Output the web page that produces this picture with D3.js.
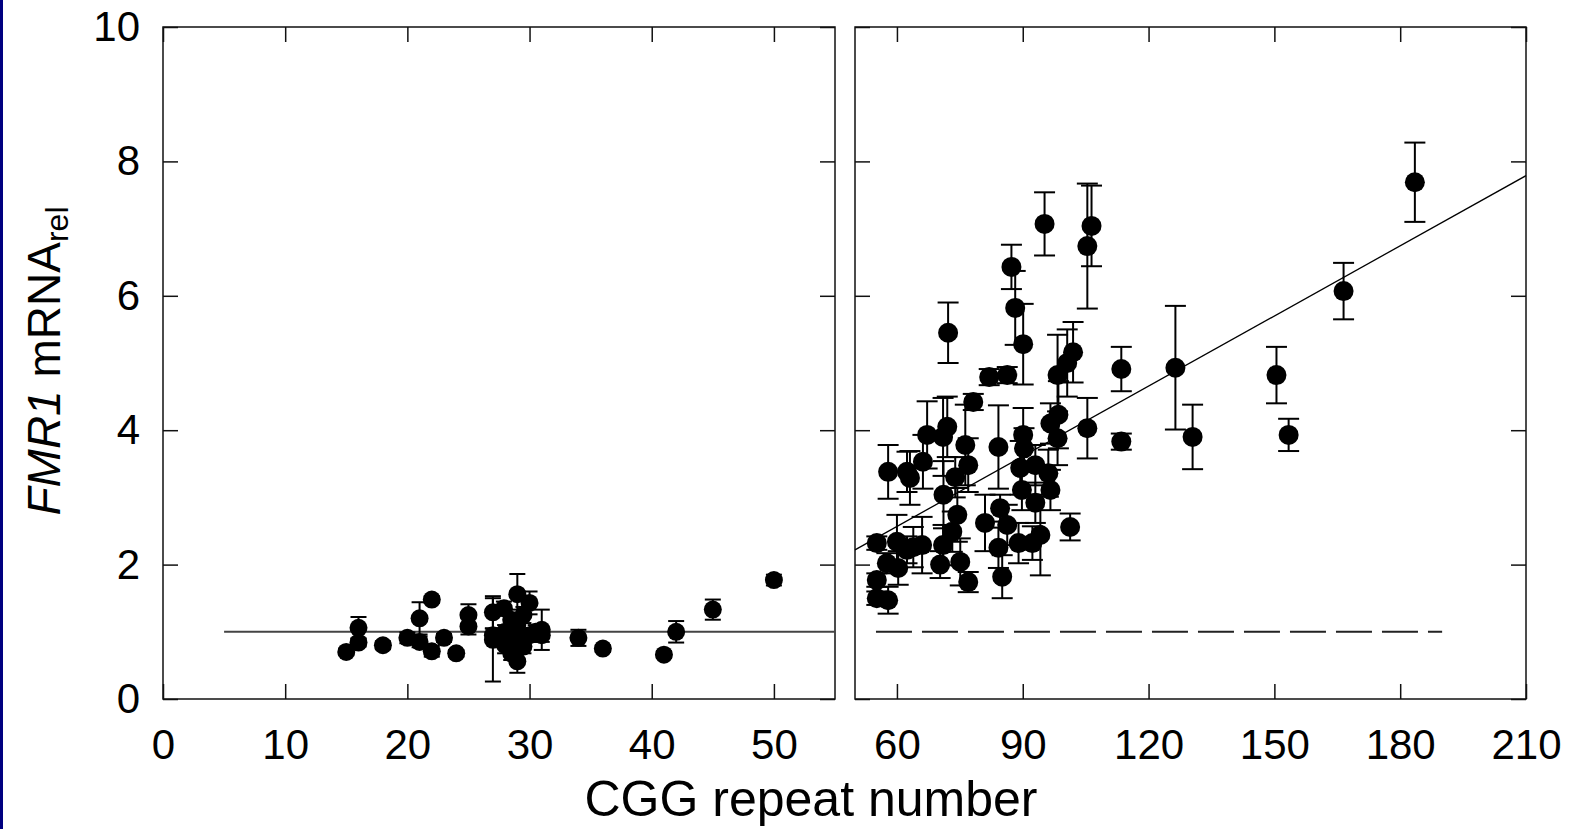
<!DOCTYPE html>
<html>
<head>
<meta charset="utf-8">
<script src="https://cdn.jsdelivr.net/npm/d3@7"></script>
<style>
  html, body { margin: 0; padding: 0; background: #fff; }
  svg { display: block; }
  text { font-family: "Liberation Sans", Arial, sans-serif; fill: #000; }
</style>
</head>
<body>
<div id="chart"></div>
<script>
// Left panel: normal CGG repeats (x = CGG, y = FMR1 mRNA rel, err = s.d.)
const leftCgg  = [15, 16, 16, 18, 20, 21, 21, 22, 22, 23, 24, 25, 25, 27, 27, 27, 27.9, 28, 28, 28.5, 28.5, 29, 29, 29, 29, 29.5, 29.5, 30, 30, 30.5, 31, 31, 34, 36, 41, 42, 45, 50]
const leftMrna = [0.70, 0.84, 1.06, 0.80, 0.91, 0.85, 1.20, 1.48, 0.71, 0.91, 0.68, 1.25, 1.08, 1.29, 0.88, 0.95, 1.35, 1.00, 0.80, 1.18, 0.68, 1.56, 1.10, 0.90, 0.56, 0.78, 1.25, 1.43, 0.95, 1.00, 1.03, 0.95, 0.91, 0.75, 0.66, 1.00, 1.33, 1.77]
const leftErr  = [0.05, 0.06, 0.16, 0.06, 0.08, 0.08, 0.24, 0.05, 0.08, 0.06, 0.05, 0.16, 0.12, 0.24, 0.62, 0.10, 0.10, 0.10, 0.12, 0.15, 0.10, 0.30, 0.10, 0.10, 0.17, 0.10, 0.12, 0.17, 0.10, 0.10, 0.30, 0.10, 0.12, 0.05, 0.05, 0.16, 0.15, 0.08]

// Right panel: premutation range
const rightCgg  = [55.2, 55.2, 55.2, 57.9, 57.6, 57.9, 60, 60.3, 62.4, 63.1, 62.4, 63.9, 66.2, 67.2, 66, 71, 72, 72.2, 71.1, 73.9, 74.4, 73.2, 71, 70.3, 75.1, 76.3, 77, 78.2, 77, 81, 82, 84.2, 84.6, 84.2, 85.1, 86.3, 86.3, 87.3, 88.2, 89, 89.4, 89.8, 90.1, 90.1, 90.3, 93, 92.3, 93, 94.2, 95.2, 96.1, 96.6, 96.6, 98.3, 98.5, 98.3, 100.6, 102, 101.3, 105.4, 105.4, 106.4, 113.5, 113.5, 126.4, 130.5, 150.5, 153.4, 166.5, 183.5]
const rightMrna = [2.32, 1.77, 1.50, 1.47, 2.02, 3.38, 2.34, 1.95, 3.38, 3.29, 2.22, 2.26, 3.53, 3.93, 2.29, 3.90, 4.05, 5.45, 3.04, 3.30, 2.74, 2.49, 2.29, 2.00, 2.04, 3.78, 3.48, 4.42, 1.74, 2.62, 4.79, 3.75, 2.84, 2.25, 1.82, 4.82, 2.59, 6.43, 5.82, 2.32, 3.44, 3.11, 3.93, 5.28, 3.73, 3.48, 2.32, 2.92, 2.44, 7.07, 3.36, 3.11, 4.10, 4.82, 4.23, 3.88, 5.00, 5.16, 2.56, 4.03, 6.74, 7.04, 4.91, 3.83, 4.93, 3.90, 4.82, 3.93, 6.07, 7.69]
const rightErr  = [0.10, 0.10, 0.10, 0.20, 0.15, 0.40, 0.40, 0.25, 0.30, 0.40, 0.20, 0.30, 0.40, 0.50, 0.42, 0.58, 0.45, 0.45, 0.50, 0.30, 0.40, 0.30, 0.30, 0.20, 0.35, 0.60, 0.40, 0.12, 0.15, 0.42, 0.12, 0.62, 0.20, 0.30, 0.32, 0.12, 0.30, 0.33, 0.55, 0.30, 0.40, 0.30, 0.40, 0.60, 0.30, 0.30, 0.25, 0.30, 0.60, 0.47, 0.35, 0.30, 0.30, 0.60, 0.50, 0.40, 0.50, 0.45, 0.20, 0.45, 0.93, 0.60, 0.33, 0.12, 0.92, 0.48, 0.42, 0.24, 0.42, 0.59]

// Reference lines
const normalLevel = 1            // mRNA level of normal alleles
const leftLineFrom = 5
const dashedFrom = 55, dashedTo = 190
const fitIntercept = 0.48, fitSlope = 0.0348   // linear fit in right panel

const leftTicks  = [0, 10, 20, 30, 40, 50]
const rightTicks = [60, 90, 120, 150, 180, 210]
const yTicks     = [0, 2, 4, 6, 8, 10]

// Size
const W = 1571, H = 829
const plotTop = 27, plotBottom = 699
const tickLen = 15
const fontSize = 42

const svg = d3.select("#chart").append("svg")
    .attr("width", W)
    .attr("height", H)

// blue strip at the left edge
svg.append("rect").attr("x", 0).attr("y", 0).attr("width", 3).attr("height", H).attr("fill", "#000080")

const y = d3.scaleLinear().domain([0, 10]).range([plotBottom, plotTop])
const xLeft = d3.scaleLinear().domain([0, 55]).range([163, 835])
const xRight = d3.scaleLinear().domain([50, 210]).range([855, 1526])

function drawPanel(x, xTicks, showY) {
    const [x0, x1] = x.range()
    const g = svg.append("g")

    // bottom axis
    g.append("g")
        .attr("transform", "translate(0," + plotBottom + ")")
        .call(d3.axisBottom(x).tickValues(xTicks).tickSize(-tickLen).tickSizeOuter(0).tickPadding(30))
    // top axis (ticks only)
    g.append("g")
        .attr("transform", "translate(0," + plotTop + ")")
        .call(d3.axisTop(x).tickValues(xTicks).tickSize(-tickLen).tickSizeOuter(0).tickFormat(""))
    // left axis
    g.append("g")
        .attr("transform", "translate(" + x0 + ",0)")
        .call(d3.axisLeft(y).tickValues(yTicks).tickSize(-tickLen).tickSizeOuter(0).tickPadding(23)
            .tickFormat(showY ? d3.format("d") : ""))
    // right axis
    g.append("g")
        .attr("transform", "translate(" + x1 + ",0)")
        .call(d3.axisRight(y).tickValues(yTicks).tickSize(-tickLen).tickSizeOuter(0).tickFormat(""))

    g.selectAll(".domain").remove()
    g.selectAll(".tick line").attr("stroke", "#111").attr("stroke-width", 1.5)
    g.selectAll(".tick text")
        .style("font-size", fontSize + "px")
        .style("font-family", "'Liberation Sans', Arial, sans-serif")
        .attr("fill", "#000")

    // frame
    g.append("rect")
        .attr("x", x0).attr("y", plotTop)
        .attr("width", x1 - x0).attr("height", plotBottom - plotTop)
        .attr("fill", "none").attr("stroke", "#111").attr("stroke-width", 1.5)
    return g
}

function drawPoints(g, x, xs, ys, errs, r, cap) {
    const pts = xs.map((d, i) => ({ x: d, y: ys[i], e: errs[i] }))
    const eb = g.append("g").attr("stroke", "#000").attr("stroke-width", 2)
    pts.forEach(p => {
        const cx = x(p.x), yt = y(p.y + p.e), yb = y(p.y - p.e)
        eb.append("line").attr("x1", cx).attr("x2", cx).attr("y1", yt).attr("y2", yb)
        eb.append("line").attr("x1", cx - cap).attr("x2", cx + cap).attr("y1", yt).attr("y2", yt)
        eb.append("line").attr("x1", cx - cap).attr("x2", cx + cap).attr("y1", yb).attr("y2", yb)
    })
    g.append("g").selectAll("circle")
        .data(pts)
        .enter()
        .append("circle")
        .attr("cx", d => x(d.x))
        .attr("cy", d => y(d.y))
        .attr("r", r)
        .attr("fill", "#000")
}

// Left panel
const gl = drawPanel(xLeft, leftTicks, true)
gl.append("line")
    .attr("x1", xLeft(leftLineFrom)).attr("x2", xLeft(55))
    .attr("y1", y(normalLevel)).attr("y2", y(normalLevel))
    .attr("stroke", "#444").attr("stroke-width", 2)
drawPoints(gl, xLeft, leftCgg, leftMrna, leftErr, 9, 8)

// Right panel
const gr = drawPanel(xRight, rightTicks, false)
gr.append("line")
    .attr("x1", xRight(dashedFrom)).attr("x2", xRight(dashedTo))
    .attr("y1", y(normalLevel)).attr("y2", y(normalLevel))
    .attr("stroke", "#222").attr("stroke-width", 2)
    .attr("stroke-dasharray", "36,10")
gr.append("path")
    .datum([50, 210])
    .attr("d", d3.line().x(d => xRight(d)).y(d => y(fitIntercept + fitSlope * d)))
    .attr("fill", "none").attr("stroke", "#000").attr("stroke-width", 1.3)
drawPoints(gr, xRight, rightCgg, rightMrna, rightErr, 10, 10.5)

// Axis titles
svg.append("text")
    .attr("x", 811)
    .attr("y", 816)
    .attr("text-anchor", "middle")
    .style("font-size", "50px")
    .text("CGG repeat number")

const yTitle = svg.append("text")
    .attr("transform", "translate(60," + 361 + ") rotate(-90)")
    .attr("text-anchor", "middle")
    .style("font-size", "46px")
yTitle.append("tspan").style("font-style", "italic").text("FMR1")
yTitle.append("tspan").text(" mRNA")
yTitle.append("tspan").attr("dy", "0.25em").style("font-size", "32px").text("rel")
</script>
</body>
</html>
